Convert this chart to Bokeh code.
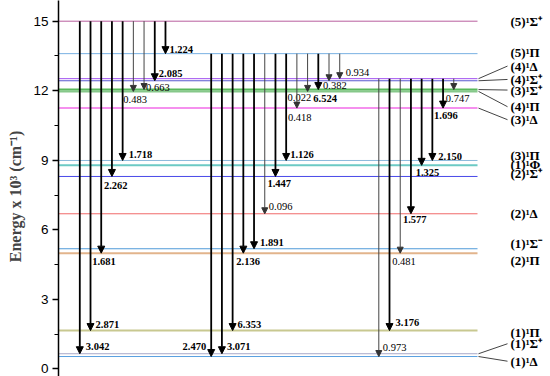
from bokeh.plotting import figure
from bokeh.models import Range1d, FixedTicker, Arrow, NormalHead, ColumnDataSource
from bokeh.core.properties import value
from bokeh.embed import file_html
from bokeh.resources import INLINE

# ---------------- data ----------------
state_names = ["(1)¹Δ", "(1)¹Σ⁺", "(1)¹Π", "(2)¹Π", "(1)¹Σ⁻", "(2)¹Δ", "(2)¹Σ⁺",
               "(1)¹Φ", "(3)¹Π", "(3)¹Δ", "(4)¹Π", "(3)¹Σ⁺", "(4)¹Σ⁺", "(4)¹Δ",
               "(5)¹Π", "(5)¹Σ⁺"]
state_energy = [0.53, 0.65, 1.65, 4.99, 5.18, 6.69, 8.30, 8.78, 8.99, 11.25,
                11.97, 12.05, 12.43, 12.52, 13.60, 15.00]

g1_upper = "(5)¹Σ⁺"
g1_lower = ["(1)¹Σ⁺", "(1)¹Π", "(2)¹Π", "(2)¹Σ⁺", "(3)¹Π", "(4)¹Π", "(3)¹Σ⁺", "(4)¹Σ⁺", "(5)¹Π"]
g1_value = [3.042, 2.871, 1.681, 2.262, 1.718, 0.483, 0.663, 2.085, 1.224]

g2_upper = "(5)¹Π"
g2_lower = ["(1)¹Δ", "(1)¹Σ⁺", "(1)¹Π", "(2)¹Π", "(1)¹Σ⁻", "(2)¹Δ", "(2)¹Σ⁺", "(3)¹Π",
            "(3)¹Δ", "(4)¹Π", "(3)¹Σ⁺", "(4)¹Σ⁺", "(4)¹Δ"]
g2_value = [2.470, 3.071, 6.353, 2.136, 1.891, 0.096, 1.447, 1.126, 0.418, 0.022,
            6.524, 0.382, 0.934]

g3_upper = "(4)¹Δ"
g3_lower = ["(1)¹Δ", "(1)¹Π", "(2)¹Π", "(2)¹Δ", "(1)¹Φ", "(3)¹Π", "(3)¹Δ", "(3)¹Σ⁺"]
g3_value = [0.973, 3.176, 0.481, 1.577, 1.325, 2.150, 1.696, 0.747]

y_ticks = [0, 3, 6, 9, 12, 15]

# ---------------- styles / layout ----------------
state_colors = ["#5aa0e0", "#a8a8c8", "#c8c890", "#e2b48c", "#4f9ad8", "#f06a6a", "#4848e8",
                "#6ccac4", "#8cbadc", "#f590ee", "#86c88a", "#58b85c", "#5a5ad0", "#a050f0",
                "#78b0e2", "#b85f9e"]
state_widths = [1, 1, 2, 2, 1, 1, 1, 2, 1, 2, 2, 2, 1, 1, 1, 1]
label_dy_px = {"(5)¹Σ⁺": 0, "(5)¹Π": -1, "(4)¹Δ": -12.6, "(4)¹Σ⁺": -1.3, "(3)¹Σ⁺": 0.5,
               "(4)¹Π": 15.3, "(3)¹Δ": 11.6, "(3)¹Π": -5, "(1)¹Φ": -1, "(2)¹Σ⁺": -2.5,
               "(2)¹Δ": 0, "(1)¹Σ⁻": -5, "(2)¹Π": 7, "(1)¹Π": 1.7, "(1)¹Σ⁺": -10, "(1)¹Δ": 4.7}
connected = ["(4)¹Δ", "(4)¹Σ⁺", "(3)¹Σ⁺", "(4)¹Π", "(3)¹Δ", "(1)¹Σ⁺", "(1)¹Δ"]

g1_off = [(6, -7, 'l'), (5, -6, 'l'), (-9, 8, 'l'), (-8, 9, 'l'), (6, -6, 'l'), (-10, 8, 'l'),
          (2, -2, 'l'), (4, -7, 'l'), (4, -4, 'l')]
g2_off = [(-5, -10, 'r'), (5, -7, 'l'), (5, -6, 'l'), (-7, 8, 'l'), (6, -6, 'l'), (4, -7, 'l'),
          (-8, 7, 'l'), (4, -6, 'l'), (-9, 9, 'l'), (-20, 6, 'l'), (-5, 9, 'l'), (-6, 5, 'l'),
          (6, -6, 'l')]
g3_off = [(4, -9, 'l'), (6, -8, 'l'), (-8, 8, 'l'), (-8, 6, 'l'), (-6, 7, 'l'), (6, -4, 'l'),
          (-9, 7, 'l'), (-8, 9, 'l')]

W, H = 550, 376
LEFT = 58
S = (368.3 - 20.7) / 15.0      # px per energy unit
YHI = 15.0 + 20.7 / S
YLO = -(H - 368.3) / S
XMAX = float(W - LEFT)
LINE_END = 419.0
SPACING = 10.71
LABEL_X = 452.0

E = dict(zip(state_names, state_energy))

p = figure(width=W, height=H, x_range=Range1d(0, XMAX), y_range=Range1d(YLO, YHI),
           output_backend="svg", toolbar_location=None, x_axis_location=None,
           min_border_left=LEFT, min_border_right=0, min_border_top=0, min_border_bottom=0)
p.outline_line_color = None
p.xgrid.visible = False
p.ygrid.visible = False
p.background_fill_color = "white"
p.border_fill_color = "white"

ax = p.yaxis[0]
ax.ticker = FixedTicker(ticks=y_ticks,
                        minor_ticks=[t + 1.5 for t in y_ticks[:-1]])
ax.axis_label = "Energy x 10³ (cm⁻¹)" + "\u00a0\u00a0\u00a0\u00a0\u200b"
ax.axis_label_text_font = "Liberation Serif"
ax.axis_label_text_font_style = "bold"
ax.axis_label_text_font_size = "16px"
ax.axis_label_standoff = 6
ax.major_label_text_font = "Liberation Sans"
ax.major_label_text_font_size = "13.5px"
ax.major_label_text_color = "black"
ax.major_label_standoff = 4
ax.major_tick_out = 6
ax.major_tick_in = 0
ax.minor_tick_out = 4
ax.minor_tick_in = 0
ax.axis_line_width = 1.5
ax.major_tick_line_width = 1.5
ax.minor_tick_line_width = 1.2

# energy levels
p.segment(x0=[0.0] * len(state_names), x1=[LINE_END] * len(state_names),
          y0=state_energy, y1=state_energy, line_color=state_colors, line_width=state_widths)

# state labels and connectors
lab_y = [E[n] - label_dy_px[n] / S for n in state_names]
p.text(x=[LABEL_X] * len(state_names), y=lab_y, text=state_names,
       text_font=value("Liberation Serif"), text_font_style="bold",
       text_font_size="13px", text_baseline="middle", text_align="left", text_color="black")
p.segment(x0=[LINE_END + 1] * len(connected), x1=[LABEL_X - 3] * len(connected),
          y0=[E[n] for n in connected],
          y1=[E[n] - label_dy_px[n] / S for n in connected],
          line_color="#444444", line_width=1)

# transitions
groups = [(21.3, g1_upper, g1_lower, g1_value, g1_off),
          (152.7, g2_upper, g2_lower, g2_value, g2_off),
          (320.3, g3_upper, g3_lower, g3_value, g3_off)]

thick = dict(x0=[], y0=[], x1=[], y1=[])
thin = dict(x0=[], y0=[], x1=[], y1=[])
lab = {True: dict(x=[], y=[], t=[], a=[]), False: dict(x=[], y=[], t=[], a=[])}
for x_start, up, lows, vals, offs in groups:
    for i, (lo, v, off) in enumerate(zip(lows, vals, offs)):
        x = x_start + i * SPACING
        strong = v >= 1.0
        d = thick if strong else thin
        d["x0"].append(x); d["y0"].append(E[up])
        d["x1"].append(x); d["y1"].append(E[lo])
        dx, dy, al = off
        L = lab[strong]
        L["x"].append(x + dx)
        L["y"].append(E[lo] - dy / S)
        L["t"].append(f"{v:.3f}")
        L["a"].append("right" if al == 'r' else "left")

p.add_layout(Arrow(end=NormalHead(size=7, fill_color="black", line_color="black", line_width=1),
                   source=ColumnDataSource(thick), x_start="x0", y_start="y0",
                   x_end="x1", y_end="y1", line_color="black", line_width=1.8))
p.add_layout(Arrow(end=NormalHead(size=6, fill_color="#333333", line_color="#333333", line_width=1),
                   source=ColumnDataSource(thin), x_start="x0", y_start="y0",
                   x_end="x1", y_end="y1", line_color="#444444", line_width=1))

for strong, style in ((True, "bold"), (False, "normal")):
    src = ColumnDataSource(lab[strong])
    p.text(x="x", y="y", text="t", text_align="a", source=src,
           text_font=value("Liberation Serif"), text_font_style=style,
           text_font_size="10.5px", text_baseline="middle", text_color="black")

open("out.html", "w").write(file_html(p, INLINE))
